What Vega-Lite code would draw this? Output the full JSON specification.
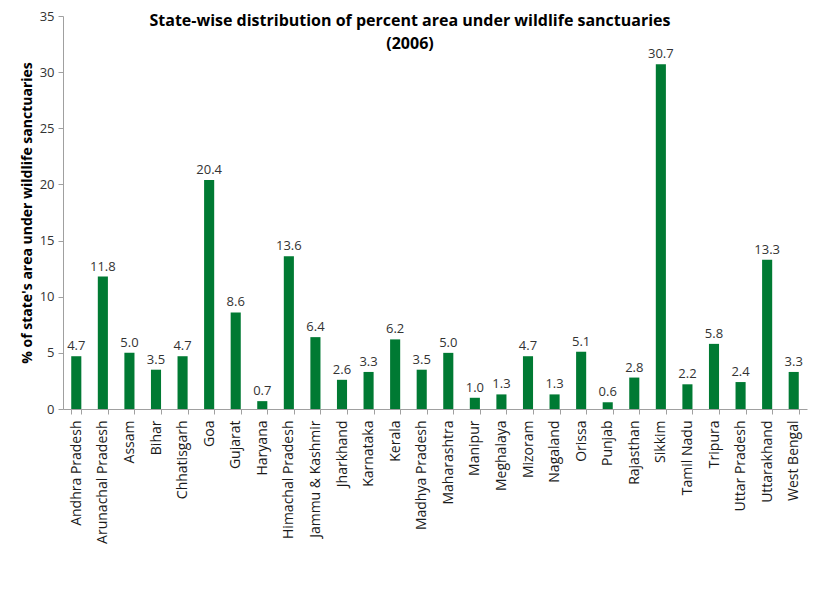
{
  "$schema": "https://vega.github.io/schema/vega-lite/v6.json",
  "width": 744,
  "height": 393,
  "autosize": {"type": "none"},
  "padding": {"left": 63, "top": 16, "right": 13, "bottom": 181},
  "background": "white",
  "title": {
    "text": ["State-wise distribution of percent area under wildlife sanctuaries", "(2006)"],
    "font": "Open Sans",
    "fontSize": 16,
    "fontWeight": "bold",
    "color": "#000000",
    "anchor": "middle",
    "dx": -25,
    "offset": -42,
    "lineHeight": 23
  },
  "config": {
    "view": {"stroke": null},
    "font": "Open Sans"
  },
  "data": {
    "values": [
      {"state": "Andhra Pradesh", "pct": 4.7},
      {"state": "Arunachal Pradesh", "pct": 11.8},
      {"state": "Assam", "pct": 5.0},
      {"state": "Bihar", "pct": 3.5},
      {"state": "Chhatisgarh", "pct": 4.7},
      {"state": "Goa", "pct": 20.4},
      {"state": "Gujarat", "pct": 8.6},
      {"state": "Haryana", "pct": 0.7},
      {"state": "Himachal Pradesh", "pct": 13.6},
      {"state": "Jammu & Kashmir", "pct": 6.4},
      {"state": "Jharkhand", "pct": 2.6},
      {"state": "Karnataka", "pct": 3.3},
      {"state": "Kerala", "pct": 6.2},
      {"state": "Madhya Pradesh", "pct": 3.5},
      {"state": "Maharashtra", "pct": 5.0},
      {"state": "Manipur", "pct": 1.0},
      {"state": "Meghalaya", "pct": 1.3},
      {"state": "Mizoram", "pct": 4.7},
      {"state": "Nagaland", "pct": 1.3},
      {"state": "Orissa", "pct": 5.1},
      {"state": "Punjab", "pct": 0.6},
      {"state": "Rajasthan", "pct": 2.8},
      {"state": "Sikkim", "pct": 30.7},
      {"state": "Tamil Nadu", "pct": 2.2},
      {"state": "Tripura", "pct": 5.8},
      {"state": "Uttar Pradesh", "pct": 2.4},
      {"state": "Uttarakhand", "pct": 13.3},
      {"state": "West Bengal", "pct": 3.3}
    ]
  },
  "encoding": {
    "x": {
      "field": "state",
      "type": "nominal",
      "sort": null,
      "scale": {"paddingInner": 0.62, "paddingOuter": 0.31},
      "axis": {
        "title": null,
        "labelAngle": -90,
        "labelFont": "Open Sans",
        "labelFontSize": 14,
        "labelColor": "#1a1a1a",
        "labelPadding": 6,
        "tickBand": "extent",
        "tickSize": 5,
        "tickColor": "#a0a0a0",
        "domainColor": "#a0a0a0",
        "labelLimit": 300
      }
    },
    "y": {
      "field": "pct",
      "type": "quantitative",
      "scale": {"domain": [0, 35], "nice": false},
      "axis": {
        "title": "% of state's area under wildlife sanctuaries",
        "titleFont": "Open Sans",
        "titleFontSize": 14,
        "titleFontWeight": "bold",
        "titleColor": "#000000",
        "titlePadding": 5,
        "values": [0, 5, 10, 15, 20, 25, 30, 35],
        "grid": false,
        "labelFont": "Open Sans",
        "labelFontSize": 13,
        "labelColor": "#333333",
        "labelPadding": 4,
        "tickSize": 5,
        "tickColor": "#a0a0a0",
        "domainColor": "#a0a0a0"
      }
    }
  },
  "layer": [
    {"mark": {"type": "bar", "color": "#007a33"}},
    {
      "mark": {"type": "text", "baseline": "bottom", "dy": -3, "font": "Open Sans", "fontSize": 13, "color": "#333333"},
      "encoding": {"text": {"field": "pct", "type": "quantitative", "format": ".1f"}}
    }
  ]
}
